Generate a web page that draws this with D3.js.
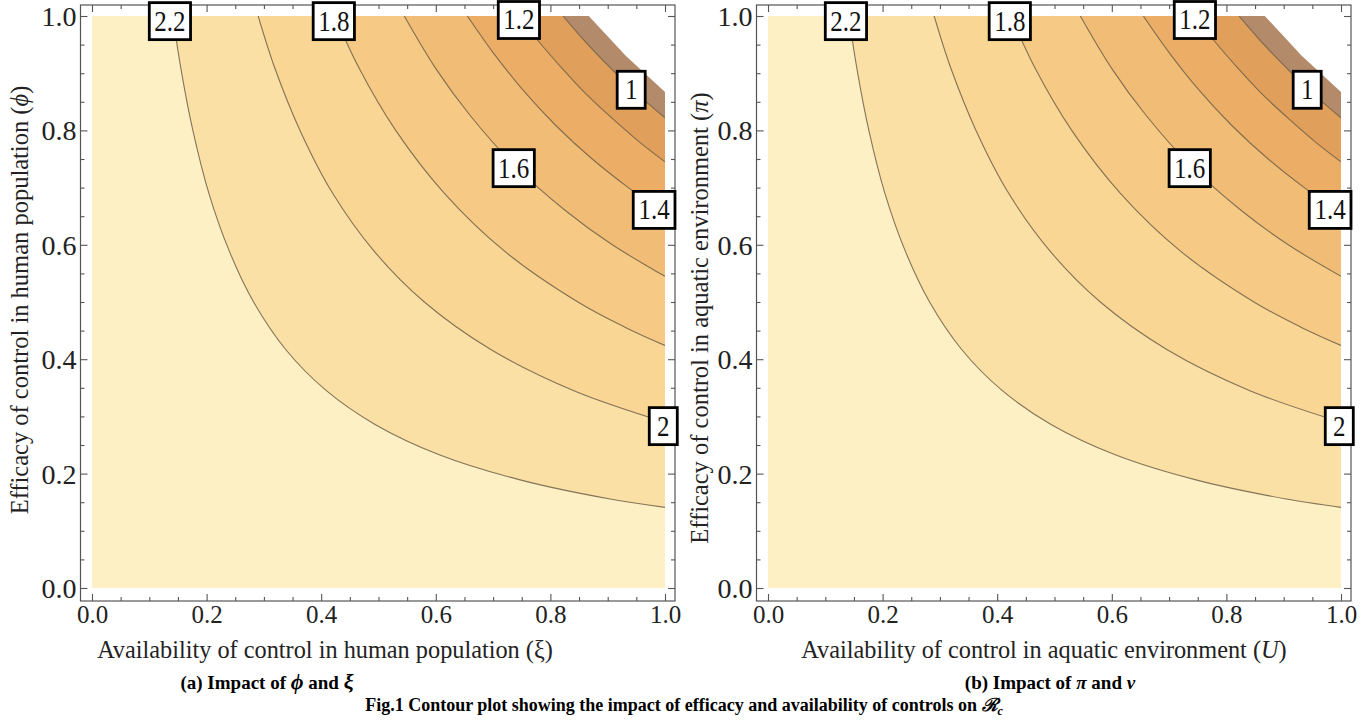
<!DOCTYPE html>
<html>
<head>
<meta charset="utf-8">
<script src="https://cdn.jsdelivr.net/npm/d3@7"></script>
<style>
  body { margin: 0; background: #fff; }
  text { font-family: "Liberation Serif", "Times New Roman", serif; }
</style>
</head>
<body>
<div id="chart"></div>
<script>
document.addEventListener("DOMContentLoaded", function () {

  // contour levels of R_c, outermost (lightest) line first
  var levels = [2.2, 2.0, 1.8, 1.6, 1.4, 1.2, 1.0];

  // points: [availability, efficacy]
  var line22 = [[0.141, 1.0], [0.155, 0.909], [0.176, 0.80], [0.204, 0.69], [0.240, 0.588],
                [0.282, 0.50], [0.338, 0.417], [0.409, 0.345], [0.494, 0.286], [0.606, 0.233],
                [0.747, 0.189], [0.902, 0.156], [1.0, 0.141]];
  var line20 = [[0.29, 1.0], [0.319, 0.909], [0.363, 0.80], [0.42, 0.69], [0.493, 0.588],
                [0.58, 0.50], [0.696, 0.417], [0.841, 0.345], [1.0, 0.29]];
  var line18 = [[0.424, 1.0], [0.466, 0.909], [0.53, 0.80], [0.615, 0.69], [0.721, 0.588],
                [0.848, 0.50], [0.93, 0.456], [1.0, 0.424]];
  var line16 = [[0.545, 1.0], [0.60, 0.908], [0.66, 0.826], [0.738, 0.738], [0.826, 0.66],
                [0.908, 0.60], [1.0, 0.545]];
  var line14 = [[0.655, 1.0], [0.70, 0.936], [0.75, 0.873], [0.809, 0.809], [0.873, 0.75],
                [0.936, 0.70], [1.0, 0.655]];
  var line12 = [[0.745, 1.0], [0.78, 0.955], [0.82, 0.909], [0.863, 0.863], [0.909, 0.82],
                [0.955, 0.78], [1.0, 0.745]];
  var line10 = [[0.822, 1.0], [0.86, 0.956], [0.907, 0.907], [0.956, 0.86], [1.0, 0.822]];
  var contourLines = [line22, line20, line18, line16, line14, line12, line10];

  // edge of the plotted range in the top right corner
  var cutEdge = [[0.867, 1.0], [0.931, 0.931], [1.0, 0.867]];

  // band colours: above 2.2, 2.0-2.2, ..., below 1.0
  var bandColors = ["#fdf0c5", "#fbe0a6", "#f9d694", "#f6ca85", "#f1bd76",
                    "#ecae66", "#e09f5b", "#b38b6b"];

  // contour labels and where they sit
  var labelText = ["2.2", "1.8", "1.2", "1", "1.6", "1.4", "2"];
  var labelX = [0.136, 0.422, 0.745, 0.941, 0.736, 0.981, 0.997];
  var labelY = [0.991, 0.991, 0.993, 0.871, 0.734, 0.661, 0.283];

  var majorTicks = [0, 0.2, 0.4, 0.6, 0.8, 1.0];
  var minorTicks = [0.05, 0.1, 0.15, 0.25, 0.3, 0.35, 0.45, 0.5, 0.55, 0.65, 0.7, 0.75, 0.85, 0.9, 0.95];

  var svg = d3.select("#chart").append("svg")
      .attr("width", 1369)
      .attr("height", 723);

  var panels = [
    { left: 92, xTitle: ["Availability of control in human population (", "\u03be", ")"], xItalic: false,
      yTitle: ["Efficacy of control in human population (", "\u03d5", ")"],
      xCenter: 325, yTitleX: 28, yCenter: 300 },
    { left: 768, xTitle: ["Availability of control in aquatic environment (", "U", ")"], xItalic: true,
      yTitle: ["Efficacy of control in aquatic environment (", "\u03c0", ")"],
      xCenter: 1044, yTitleX: 708, yCenter: 318 }
  ];

  panels.forEach(function (p, pi) {
    var x = d3.scaleLinear().domain([0, 1]).range([p.left, p.left + 573]);
    var y = d3.scaleLinear().domain([0, 1]).range([588, 16]);
    var g = svg.append("g");

    var clipId = "clip" + pi;
    g.append("clipPath").attr("id", clipId)
      .append("rect")
        .attr("x", x(0)).attr("y", y(1))
        .attr("width", x(1) - x(0)).attr("height", y(0) - y(1));

    var plot = g.append("g").attr("clip-path", "url(#" + clipId + ")");

    var line = d3.line()
        .x(function (d) { return x(d[0]); })
        .y(function (d) { return y(d[1]); })
        .curve(d3.curveCatmullRom);

    // background band
    plot.append("rect")
        .attr("x", x(0)).attr("y", y(1))
        .attr("width", x(1) - x(0)).attr("height", y(0) - y(1))
        .attr("fill", bandColors[0]);

    // each band fills from its contour to the top right corner
    plot.selectAll(".band")
        .data(contourLines)
      .enter().append("path")
        .attr("class", "band")
        .attr("fill", function (d, i) { return bandColors[i + 1]; })
        .attr("d", function (d) { return line(d) + "L" + x(1) + "," + y(1) + "Z"; });

    plot.append("path")
        .attr("fill", "#fff")
        .attr("d", d3.line().x(function (d) { return x(d[0]); }).y(function (d) { return y(d[1]); })(cutEdge)
              + "L" + (x(1) + 2) + "," + (y(1) - 2) + "Z");

    plot.selectAll(".cline")
        .data(contourLines)
      .enter().append("path")
        .attr("class", "cline")
        .attr("fill", "none")
        .attr("stroke", "#6e6048")
        .attr("stroke-opacity", 0.85)
        .attr("stroke-width", 1.1)
        .attr("d", line);

    // frame
    var fx0 = x(0) - 11.5, fx1 = x(1) + 10, fy0 = y(1) - 11, fy1 = y(0) + 13;
    g.append("rect")
        .attr("x", fx0).attr("y", fy0)
        .attr("width", fx1 - fx0).attr("height", fy1 - fy0)
        .attr("fill", "none")
        .attr("stroke", "#555")
        .attr("stroke-width", 1.2);

    // ticks point inward on all four sides
    function ticks(axis, vals, size, fmt, tr) {
      var a = g.append("g")
          .attr("transform", tr)
          .call(axis.tickValues(vals).tickSize(-size).tickPadding(6).tickFormat(fmt));
      a.select(".domain").remove();
      a.selectAll("line").attr("stroke", "#555").attr("stroke-width", 1.1);
      return a;
    }
    var fmt = d3.format(".1f");
    var none = function () { return ""; };

    var bx = ticks(d3.axisBottom(x), majorTicks, 7, fmt, "translate(0," + fy1 + ")");
    ticks(d3.axisBottom(x), minorTicks, 4, none, "translate(0," + fy1 + ")");
    ticks(d3.axisTop(x), majorTicks, 7, none, "translate(0," + fy0 + ")");
    ticks(d3.axisTop(x), minorTicks, 4, none, "translate(0," + fy0 + ")");
    var ly = ticks(d3.axisLeft(y), majorTicks, 7, fmt, "translate(" + fx0 + ",0)");
    ticks(d3.axisLeft(y), minorTicks, 4, none, "translate(" + fx0 + ",0)");
    ticks(d3.axisRight(y), majorTicks, 7, none, "translate(" + fx1 + ",0)");
    ticks(d3.axisRight(y), minorTicks, 4, none, "translate(" + fx1 + ",0)");

    bx.selectAll("text")
        .attr("font-family", "Liberation Serif, serif")
        .attr("font-size", 25).attr("fill", "#222")
        .attr("y", 4).attr("dy", "0.71em");
    ly.selectAll("text")
        .attr("font-family", "Liberation Serif, serif")
        .attr("font-size", 28).attr("fill", "#222")
        .attr("x", -4).attr("dy", "0.34em");

    // axis titles
    var xt = g.append("text")
        .attr("x", p.xCenter).attr("y", 658)
        .attr("text-anchor", "middle")
        .attr("font-size", 24.3).attr("fill", "#222");
    xt.append("tspan").text(p.xTitle[0]);
    xt.append("tspan").attr("font-style", p.xItalic ? "italic" : "normal").text(p.xTitle[1]);
    xt.append("tspan").text(p.xTitle[2]);

    var yt = g.append("text")
        .attr("transform", "translate(" + p.yTitleX + "," + p.yCenter + ") rotate(-90)")
        .attr("text-anchor", "middle")
        .attr("font-size", 24.5).attr("fill", "#222");
    yt.append("tspan").text(p.yTitle[0]);
    yt.append("tspan").attr("font-style", "italic").text(p.yTitle[1]);
    yt.append("tspan").text(p.yTitle[2]);

    // contour labels
    var lab = g.selectAll(".lab")
        .data(labelText)
      .enter().append("g")
        .attr("class", "lab")
        .attr("transform", function (d, i) { return "translate(" + x(labelX[i]) + "," + y(labelY[i]) + ")"; });
    lab.append("rect");
    lab.append("text")
        .attr("text-anchor", "middle")
        .attr("font-size", 25)
        .attr("fill", "#111")
        .attr("transform", "scale(1,1.15)")
        .attr("dy", "0.33em")
        .text(function (d) { return d; });
    lab.each(function () {
      var t = d3.select(this).select("text").node().getBBox();
      var w = Math.max(t.width + 10, 28), h = 37;
      d3.select(this).select("rect")
          .attr("x", -w / 2).attr("y", -h / 2)
          .attr("width", w).attr("height", h)
          .attr("fill", "#fff")
          .attr("stroke", "#000")
          .attr("stroke-width", 2.8);
    });
  });

  // captions
  var capA = svg.append("text")
      .attr("x", 267).attr("y", 689)
      .attr("text-anchor", "middle")
      .attr("font-size", 19).attr("font-weight", "bold");
  capA.append("tspan").text("(a) Impact of ");
  capA.append("tspan").attr("font-style", "italic").attr("font-size", 22).text("\u03d5");
  capA.append("tspan").text(" and ");
  capA.append("tspan").attr("font-style", "italic").attr("font-size", 22).text("\u03be");

  var capB = svg.append("text")
      .attr("x", 1050).attr("y", 689)
      .attr("text-anchor", "middle")
      .attr("font-size", 19).attr("font-weight", "bold");
  capB.append("tspan").text("(b) Impact of ");
  capB.append("tspan").attr("font-style", "italic").text("\u03c0");
  capB.append("tspan").text(" and ");
  capB.append("tspan").attr("font-style", "italic").text("\u03bd");

  var fig = svg.append("text")
      .attr("x", 684).attr("y", 711)
      .attr("text-anchor", "middle")
      .attr("font-size", 18).attr("font-weight", "bold");
  fig.append("tspan").text("Fig.1 Contour plot showing the impact of efficacy and availability of controls on ");
  fig.append("tspan").attr("font-style", "italic").text("\u211b");
  fig.append("tspan").attr("font-style", "italic").attr("font-size", 12).attr("dy", 4).text("c");
});
</script>
</body>
</html>
